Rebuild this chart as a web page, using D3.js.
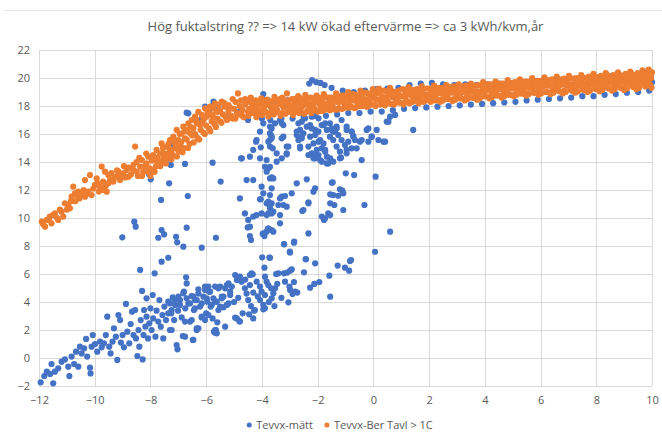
<!DOCTYPE html>
<html>
<head>
<meta charset="utf-8">
<script src="https://cdn.jsdelivr.net/npm/d3@7"></script>
<style>
  body { margin: 0; background: #fff; }
  text { font-family: "Open Sans", sans-serif; fill: #595959; }
</style>
</head>
<body>
<svg id="chart" width="662" height="436"></svg>
<script>
const title = "Hög fuktalstring ?? => 14 kW ökad eftervärme => ca 3 kWh/kvm,år";
const seriesNames = ["Tevvx-mätt", "Tevvx-Ber Tavl > 1C"];
const xTicks = [-12, -10, -8, -6, -4, -2, 0, 2, 4, 6, 8, 10];
const yTicks = [-2, 0, 2, 4, 6, 8, 10, 12, 14, 16, 18, 20, 22];

// Tevvx-mätt, lower diagonal cloud
const blueLow = [
  [-11.94,-1.74],[-11.81,-1.29],[-11.72,-0.98],[-11.6,-1.14],[-11.55,-0.43],[-11.49,-1.81],[-11.43,-0.98],[-11.31,-0.74],
  [-11.19,-0.26],[-11.07,-0.1],[-10.95,-0.62],[-10.91,-1.29],[-10.83,0.1],[-10.74,-0.43],[-10.67,0.45],[-10.59,-0.62],
  [-10.53,0.81],[-10.47,0.33],[-10.38,0.69],[-10.31,1.36],[-10.27,0.1],[-10.17,-0.69],[-10.15,-1.1],[-10.11,0.81],
  [-10.07,1.64],[-9.99,1.0],[-9.91,0.45],[-9.81,1.17],[-9.75,0.76],[-9.67,1.05],[-9.6,1.64],[-9.55,2.95],[-9.48,0.81],
  [-9.43,0.33],[-9.36,1.17],[-9.31,2.12],[-9.24,1.52],[-9.19,-0.14],[-9.15,3.07],[-9.09,2.71],[-9.06,1.1],[-9.0,1.64],
  [-8.95,0.76],[-8.88,3.86],[-8.83,1.88],[-8.76,1.05],[-8.71,2.43],[-8.66,3.31],[-8.61,1.64],[-8.55,3.43],[-8.52,1.4],
  [-8.47,0.14],[-8.43,2.0],[-8.4,0.81],[-8.35,2.71],[-8.3,4.79],[-8.28,-0.1],[-8.25,1.64],[-8.23,3.43],[-8.18,2.24],
  [-8.14,2.95],[-8.14,4.26],[-8.09,1.4],[-8.04,2.48],[-8.0,3.55],[-7.96,2.0],[-7.92,4.5],[-7.9,2.83],[-7.82,1.52],
  [-7.78,3.38],[-7.72,2.6],[-7.68,4.14],[-7.63,2.24],[-7.57,3.07],[-7.54,1.4],[-7.5,3.67],[-7.44,2.71],[-7.36,4.02],
  [-7.3,2.0],[-7.25,3.19],[-7.2,4.33],[-7.15,2.71],[-7.11,3.79],[-7.06,0.93],[-7.03,0.62],[-7.01,3.38],[-6.94,4.14],
  [-6.88,2.9],[-6.84,1.57],[-6.8,4.74],[-6.75,3.55],[-6.72,5.76],[-6.7,5.33],[-6.64,3.9],[-6.58,2.6],[-6.52,4.43],
  [-6.48,1.29],[-6.44,3.43],[-6.4,4.14],[-6.34,2.12],[-6.28,4.9],[-6.22,3.67],[-6.16,2.9],[-6.1,4.38],[-6.04,5.1],
  [-6.0,3.19],[-5.96,4.02],[-5.89,4.74],[-5.84,3.67],[-5.77,2.83],[-5.72,1.88],[-5.68,5.1],[-5.62,4.02],[-5.56,3.43],
  [-5.5,5.1],[-5.44,4.38],[-5.38,3.62],[-5.32,2.24],[-5.26,5.21],[-5.2,3.9],[-5.14,4.74],
  [-3.89,5.81],[-3.83,5.45],[-3.77,5.21],[-3.67,4.98],[-3.59,4.62],[-3.65,4.26],[-3.89,4.5],[-4.01,4.74],[-4.07,4.14],
  [-3.95,3.79],[-3.89,3.55],[-4.07,5.1],[-4.19,5.45],[-4.37,6.05],[-4.31,4.67],[-4.43,5.21],[-4.49,4.14],[-4.61,4.98],
  [-4.73,5.45],[-4.79,5.81],[-4.9,5.57],[-4.96,5.93],[-5.08,5.1],[-5.14,4.5],[-5.2,5.33],[-5.32,4.98],[-5.38,4.38],
  [-5.26,3.79],[-5.44,4.26],[-5.5,3.67],[-5.56,4.98],[-5.68,4.02],[-5.74,4.26],[-5.8,3.79],[-5.86,4.74],[-5.92,5.1],
  [-5.98,4.26],[-6.04,4.86],[-6.16,3.9],[-6.28,4.6],[-6.34,4.14],[-6.4,3.55],[-6.46,4.38],[-6.58,3.9],[-6.7,4.26],
  [-6.82,4.62],[-6.94,3.79],[-7.0,4.38],[-7.12,4.14],[-7.24,3.43],[-7.3,3.9],[-7.36,3.19],
  [-4.31,2.83],[-4.9,2.83],[-4.79,2.6],[-5.68,2.0],[-5.62,1.76],[-6.28,2.12],[-6.34,2.0],[-6.46,1.29],[-6.76,1.52],
  [-7.24,2.0],[-6.04,2.71],[-5.92,3.07],[-6.16,2.95],[-6.52,2.71],[-6.76,2.6],[-4.39,3.71],[-4.25,3.43],[-4.69,3.19],
  [-2.85,5.43],[-3.01,5.1],[-2.99,4.86],[-2.81,4.74],[-2.73,4.67],[-2.9,4.57],[-3.05,3.98],[-3.55,3.71],[-3.95,3.48],
  [-4.28,3.38],[-4.46,3.12],[-4.81,2.64],[-4.96,2.88],[-5.65,2.0],[-5.68,1.81],[-5.6,2.55],
  [-2.49,6.12],[-2.99,6.24],[-2.93,6.33],[-3.09,6.1],[-3.21,6.05],[-3.49,6.0],[-4.33,5.98],[-4.43,5.93],
  [-1.58,5.88],[-1.94,5.43],[-2.12,5.29],[-2.27,5.02],[-1.55,4.38],[-3.41,6.05],[-3.17,5.45],[-3.53,4.98],
  [-4.85,4.3],[-4.55,4.6],[-4.15,4.4],[-3.75,4.0],[-3.45,5.3],[-3.3,4.3],[-4.6,5.6],[-5.0,4.0]
];

// Tevvx-mätt, scattered points between the two bands
const blueMid = [
  [-7.42,14.19],[-7.27,13.79],[-6.76,13.86],[-5.77,13.95],[-5.48,12.6],[-8.05,13.12],[-7.99,12.76],[-7.33,12.48],
  [-6.66,11.57],[-7.62,11.29],[-7.18,15.26],[-8.58,9.74],[-8.53,9.38],[-9.01,8.62],[-7.6,9.14],[-7.72,8.59],[-7.51,8.83],
  [-7.08,8.66],[-7.04,8.26],[-6.82,7.95],[-6.7,9.31],[-6.16,7.88],[-5.65,8.59],[-7.6,6.88],[-7.36,7.16],[-8.37,6.29],
  [-7.85,6.05],[-4.79,11.4],[-4.55,12.71],[-4.31,12.71],[-4.72,14.26],[-4.43,14.38],[-4.31,14.86],[-4.21,15.45],
  [-4.04,15.05],[-4.07,14.26],[-3.83,14.14],[-3.89,13.66],[-3.77,13.55],[-3.71,15.57],[-3.68,15.93],[-3.61,14.98],
  [-4.01,12.24],[-3.95,11.76],[-4.07,11.34],[-3.65,12.9],[-3.29,11.52],[-3.23,10.93],[-3.83,11.05],[-3.71,10.81],
  [-3.65,10.33],[-3.83,10.21],[-4.01,10.33],[-4.19,10.21],[-4.31,10.1],[-4.61,10.33],[-4.49,9.86],[-4.43,9.38],
  [-3.35,9.62],[-3.35,10.21],[-3.95,8.9],[-3.83,9.02],[-3.59,9.02],[-3.11,10.81],[-3.17,11.57],[-2.93,11.76],
  [-2.51,10.57],[-2.33,11.05],[-2.75,12.48],[-2.39,12.76],[-2.09,12.12],[-2.15,11.88],[-1.49,12.52],[-1.44,11.64],
  [-1.55,11.05],[-1.62,10.33],[-1.73,9.98],[-1.85,10.1],[-1.2,12.05],[-1.08,11.76],[-1.08,10.57],[-0.99,13.19],
  [-0.69,13.07],[-0.32,10.93],[0.08,12.95],[0.6,9.02],[-2.33,8.9],[1.43,16.29],[0.48,16.88],[0.6,17.24],[0.18,15.57],
  [0.36,15.45],[-0.24,16.29],[-0.06,15.81],[-0.18,15.45],[-0.42,14.14],[-1.2,14.26],[-0.96,14.86],[-0.78,14.98],
  [-0.66,15.57],[-0.48,15.45],[-0.78,16.17],[-0.72,15.86],
  [-2.75,15.93],[-2.63,16.29],[-2.51,16.05],[-2.57,15.69],[-2.39,16.52],[-2.27,15.81],[-2.15,15.33],[-2.03,14.86],
  [-1.97,14.5],[-1.91,14.14],[-2.09,14.26],[-2.21,14.62],[-2.33,15.1],[-1.91,15.57],[-1.79,15.33],[-1.73,14.86],
  [-1.67,14.38],[-1.62,13.9],[-1.49,16.29],[-1.44,16.17],[-1.32,16.4],[-1.26,15.93],[-1.44,15.57],[-1.32,15.1],
  [-1.56,15.81],[-2.27,16.64],[-2.09,16.29],[-1.97,16.17],[-1.85,16.64],[-1.73,16.76],[-1.56,16.76],[-2.63,15.1],
  [-3.71,16.52],[-3.53,16.76],[-3.35,17.0],[-3.23,16.64],[-3.65,15.81],[-3.23,15.81],[-3.05,15.1],[-3.47,14.62],
  [-3.11,14.62],[-4.07,16.17],[-4.19,15.57],[-3.95,16.76],[-0.96,16.29],[-1.14,15.57],
  [0.06,7.59],[-0.8,7.0],[-2.09,6.76],[-2.43,7.07],[-2.84,8.31],[-3.2,8.12],[-3.0,7.6],[-3.71,7.16],[-1.55,10.21],
  [-2.55,10.5],[-2.33,11.12],[-3.35,11.4],[-3.41,10.93],[-3.65,11.05],[-3.71,10.69],[-3.77,10.33],[-3.59,10.45],
  [-3.65,9.14],[-3.77,9.26],[-3.71,12.83],[-3.59,12.83],[-1.55,11.69],[-1.26,11.59],[-1.11,11.95],[-1.4,10.93],
  [-1.46,12.55],[-1.16,14.31],[-3.47,14.02],[-3.29,14.26],[-3.11,14.55],[-3.71,13.66],[-3.83,13.31],
  [-3.77,15.45],[-3.71,15.1],[-3.65,15.69],[-3.29,15.69],[-3.11,15.1],[-2.63,14.98],[-2.33,14.5],[-2.15,14.26],
  [-1.85,14.02],[-1.67,13.9],[-3.65,16.4],[-3.71,16.05],[-3.29,16.76],[-2.69,16.76],[-2.57,16.88],[-2.45,17.12],
  [-2.21,17.24],[-1.97,17.12],[-1.79,16.64],[-1.67,16.29],[-1.49,16.4],[-1.38,16.17],[-1.32,16.52],[-1.14,17.0],
  [-0.96,16.52],[-0.78,16.17],[-0.72,15.81],[-0.9,15.45],[-1.02,15.21],[-0.6,14.98],[-0.96,14.62],[-0.42,15.57],
  [-0.18,16.4],[-0.06,15.81],[0.42,15.45],[0.54,16.88],[0.12,16.29],[0.78,17.36],[-2.21,16.4],[-2.09,15.93],
  [-1.97,15.45],[-1.85,14.98],[-2.09,14.5],[-1.73,14.74],[-1.55,14.26],[-1.44,14.02],[-1.2,14.74],[-2.75,16.17],
  [-2.57,15.81],[-2.69,15.57],[-3.65,12.12],[-3.71,11.64],[-3.77,11.17],
  [-4.51,9.33],[-4.43,8.71],[-4.39,8.43],[-3.97,8.86],[-3.91,8.71],[-3.79,9.19],[-3.21,8.14],[-2.85,8.24],[-2.99,7.52],
  [-1.77,9.86],[-3.99,7.19],[-3.73,7.17],[-3.91,6.45],[-2.42,7.05],[-1.28,6.6],[-1.02,6.45],[-0.84,6.93],[-0.87,6.24],
  [-4.75,14.26],[-4.04,11.34]
];

// Tevvx-mätt, points along the upper band (mostly under the orange series)
const blueBand = [
  [-6.7,17.52],[-6.64,17.48],[-5.74,18.31],[-6.04,17.95],[-5.89,17.71],[-5.56,17.95],[-6.22,17.0],[-3.95,18.85],
  [-5.2,17.3],[-4.8,17.6],[-4.5,17.0],[-4.2,18.3],
  [-4.0,17.1],[-3.9,18.4],[-3.7,17.0],[-3.5,18.3],[-3.3,17.1],[-3.1,18.4],[-2.9,17.1],[-2.7,18.5],[-2.5,17.2],
  [-2.3,19.6],[-2.2,19.85],[-2.05,19.7],[-1.9,19.65],[-1.75,19.5],[-2.1,17.3],[-1.7,17.3],[-1.5,19.3],[-1.3,17.4],
  [-1.1,19.1],[-0.9,17.5],[-0.7,19.0],[-0.5,17.5],[-0.3,19.1],[-0.1,17.6],[0.1,19.2],[0.3,17.6],[0.5,19.25],[0.7,17.7],
  [0.9,19.3],[1.1,17.8],[1.3,19.5],[1.5,17.85],[1.7,19.6],[1.9,17.9],[2.1,19.65],[2.3,17.95],[2.5,19.55],[2.7,18.0],
  [2.9,19.5],[3.1,18.05],[3.3,19.55],[3.5,18.1],[3.7,19.5],[3.9,18.15],[4.1,19.55],[4.3,18.2],[4.5,19.6],[4.7,18.25],
  [4.9,19.65],[5.1,18.3],[5.3,19.7],[5.5,18.4],[5.7,19.75],[5.9,18.45],[6.1,19.8],[6.3,18.5],[6.5,19.85],[6.7,18.55],
  [6.9,19.9],[7.1,18.6],[7.3,19.95],[7.5,18.7],[7.7,20.0],[7.9,18.7],[8.1,20.05],[8.3,18.8],[8.5,20.1],[8.7,18.85],
  [8.9,20.1],[9.1,18.95],[9.3,20.15],[9.5,19.0],[9.7,20.2],[9.9,19.1],[10.0,19.7]
];

// Tevvx-Ber Tavl > 1C, rising part
const orangeRise = [
  [-11.9,9.74],[-11.78,9.38],[-11.72,9.86],[-11.61,10.1],[-11.55,9.62],[-11.43,10.33],[-11.31,9.86],[-11.19,10.45],
  [-11.13,10.1],[-11.07,11.05],[-10.95,10.93],[-10.89,10.69],[-10.83,11.52],[-10.71,11.76],[-10.77,12.24],[-10.65,11.64],
  [-10.59,11.88],[-10.47,11.64],[-10.35,11.52],[-10.23,11.88],[-10.11,11.64],[-10.35,12.71],[-10.17,13.07],[-9.93,12.83],
  [-9.99,12.36],[-9.81,12.24],[-9.69,12.0],[-9.57,11.88],[-9.75,13.67],[-9.63,13.31],[-9.51,13.07],[-9.45,12.71],
  [-9.33,12.6],[-9.21,12.95],[-9.15,13.31],[-9.09,12.71],[-8.97,13.19],[-8.85,13.43],[-8.79,12.95],[-8.67,13.55],
  [-8.55,15.1],[-8.61,13.79],[-8.49,13.31],[-8.37,13.67],[-8.31,14.14],[-8.26,13.31],[-8.14,13.9],[-8.08,14.38],
  [-8.02,13.55],[-7.9,14.5],[-7.84,14.14],[-7.78,14.86],[-7.66,14.62],[-7.6,15.33],[-7.54,14.26],[-7.42,15.1],
  [-7.36,14.62],[-7.3,15.57],[-7.24,14.86],[-7.18,15.81],[-7.12,15.33],[-7.06,16.29],[-7.0,15.57],[-6.94,15.1],
  [-6.88,16.05],[-6.82,16.52],[-6.76,15.69],[-6.7,16.29],[-6.64,16.76],[-6.58,16.05],[-6.52,17.0],[-6.46,16.4],
  [-6.4,17.24],[-6.34,16.76],[-6.28,17.59],[-6.22,16.64],[-6.16,17.36],[-6.1,17.0],[-6.04,17.83],[-5.98,17.24],
  [-5.92,17.59],[-5.86,17.95],[-5.8,17.36],[-5.74,17.83],[-5.68,18.19],[-5.62,17.59],[-5.56,18.07],[-5.5,17.71],
  [-5.44,18.31],[-5.32,17.95],[-5.2,18.07],
  [-8.0,13.0],[-7.9,13.4],[-7.8,13.7],[-7.7,13.9],[-7.6,14.0],[-7.5,14.6],[-7.4,14.3],[-7.3,14.9],[-7.2,14.5],
  [-7.1,15.0],[-7.0,14.8],[-6.9,15.4],[-6.8,15.0],[-6.7,15.6],[-6.6,15.3],[-6.5,15.9],[-6.4,16.0],[-6.3,15.7],
  [-6.2,16.3],[-6.1,16.1],[-6.0,16.6],[-5.9,16.4],[-5.8,16.9],[-5.7,16.7],[-5.6,17.1],[-5.5,16.9],[-5.4,17.4],
  [-5.3,17.2],[-5.2,17.6],[-5.1,17.3],[-5.0,17.8],[-4.9,17.5],[-4.8,18.0],[-4.7,17.7],[-4.6,18.1],[-4.5,17.6],
  [-4.86,18.9],[-5.05,18.5],[-4.95,17.1],[-4.7,17.3],[-4.6,18.5],
  [-11.85,9.55],[-11.65,9.9],[-11.5,10.2],[-11.35,10.0],[-11.25,10.6],[-11.0,10.6],[-10.85,11.2],[-10.7,11.2],
  [-10.55,11.4],[-10.4,12.0],[-10.3,11.7],[-10.05,12.1],[-9.9,12.5],[-9.85,11.9],[-9.7,12.6],[-9.6,12.3],[-9.5,12.5],
  [-9.4,13.2],[-9.3,12.9],[-9.2,13.4],[-9.05,13.0],[-8.95,13.7],[-8.9,12.9],[-8.8,13.6],[-8.7,13.1],[-8.6,13.4],
  [-8.5,14.0],[-8.45,13.0],[-8.4,14.3],[-8.3,13.0],[-8.2,13.7],[-8.15,14.6],[-8.1,13.3],[-7.95,14.1],[-7.85,13.3],
  [-7.75,14.3],[-7.65,13.7],[-7.55,15.0],[-7.45,13.9],[-7.35,15.3],[-7.25,14.2],[-7.15,15.6],[-7.05,14.4],[-6.95,16.0],
  [-6.85,14.7],[-6.75,16.2],[-6.65,15.0],[-6.55,16.5],[-6.45,15.4],[-6.35,17.0],[-6.25,15.6],[-6.15,16.8],[-6.05,16.0],
  [-5.95,17.5],[-5.85,16.2],[-5.75,17.2],[-5.65,16.5],[-5.55,17.6],[-5.45,16.8],[-5.35,18.2],[-5.25,17.0],[-5.15,17.9],
  [-5.05,17.1],[-4.95,18.3],[-4.85,17.4],[-4.75,18.4],[-4.65,17.2],[-4.55,18.3]
];

// Tevvx-Ber Tavl > 1C, flat upper band
const orangeBand = [
  [-4.48,17.3],[-4.45,17.8],[-4.42,18.3],[-4.4,18.6],[-4.3,17.5],[-4.27,18.0],[-4.22,18.4],[-4.2,17.2],
  [-4.1,17.7],[-4.06,18.2],[-4.02,18.55],[-4.0,17.35],[-3.88,17.6],[-3.84,18.1],[-3.8,18.45],[-3.77,17.25],
  [-3.66,17.85],[-3.62,18.3],[-3.58,17.4],[-3.55,18.65],[-3.45,17.7],[-3.4,18.15],[-3.36,18.5],[-3.33,17.3],
  [-3.22,17.9],[-3.18,18.35],[-3.15,17.45],[-3.1,18.9],[-3.0,17.6],[-2.96,18.05],[-2.92,18.5],[-2.88,17.35],
  [-2.78,17.8],[-2.74,18.25],[-2.7,18.7],[-2.66,17.5],[-2.56,17.95],[-2.52,18.4],[-2.48,17.45],[-2.44,18.8],
  [-2.34,17.7],[-2.3,18.15],[-2.26,18.6],[-2.22,17.5],[-2.12,17.85],[-2.08,18.3],[-2.04,18.75],[-2.0,17.6],
  [-1.9,18.0],[-1.86,18.45],[-1.82,17.65],[-1.78,18.85],[-1.68,17.8],[-1.64,18.2],[-1.6,18.6],[-1.56,17.7],
  [-1.46,18.05],[-1.42,18.5],[-1.38,17.75],[-1.34,18.9],[-1.24,17.85],[-1.2,18.3],[-1.16,18.75],[-1.12,17.8],
  [-1.02,18.15],[-0.98,18.6],[-0.94,17.9],[-0.9,19.0],[-0.8,17.95],[-0.76,18.4],[-0.72,18.85],[-0.68,17.85],
  [-0.58,18.25],[-0.54,18.7],[-0.5,18.0],[-0.46,19.1],[-0.36,18.05],[-0.32,18.5],[-0.28,18.95],[-0.24,17.95],
  [-0.14,18.35],[-0.1,18.8],[-0.06,18.1],[-0.02,19.2],[0.08,18.0],[0.12,18.45],[0.16,18.9],[0.2,19.25],
  [0.3,18.2],[0.34,18.65],[0.38,19.1],[0.42,18.05],[0.52,18.35],[0.56,18.8],[0.6,19.3],[0.64,18.15],
  [0.74,18.1],[0.78,18.55],[0.82,19.0],[0.86,18.4],[0.96,18.25],[1.0,18.7],[1.04,19.2],[1.08,18.1],
  [1.18,18.4],[1.22,18.85],[1.26,19.35],[1.3,18.2],[1.4,18.3],[1.44,18.75],[1.48,19.15],[1.52,18.5],
  [1.62,18.2],[1.66,18.6],[1.7,19.05],[1.74,19.4],[1.84,18.35],[1.88,18.8],[1.92,19.25],[1.96,18.55],
  [2.06,18.3],[2.1,18.7],[2.14,19.15],[2.18,19.45],[2.28,18.45],[2.32,18.9],[2.36,19.3],[2.4,18.3],
  [2.5,18.4],[2.54,18.8],[2.58,19.2],[2.62,19.5],[2.72,18.5],[2.76,18.95],[2.8,19.35],[2.84,18.35],
  [2.94,18.45],[2.98,18.85],[3.02,19.25],[3.06,19.55],[3.16,18.55],[3.2,19.0],[3.24,19.4],[3.28,18.4],
  [3.38,18.5],[3.42,18.9],[3.46,19.3],[3.5,19.6],[3.6,18.6],[3.64,19.05],[3.68,19.45],[3.72,18.45],
  [3.82,18.55],[3.86,19.0],[3.9,19.4],[3.94,19.7],[4.04,18.7],[4.08,19.15],[4.12,19.55],[4.16,18.55],
  [4.26,18.65],[4.3,19.05],[4.34,19.45],[4.38,19.75],[4.48,18.75],[4.52,19.2],[4.56,19.6],[4.6,18.6],
  [4.7,18.7],[4.74,19.1],[4.78,19.5],[4.82,19.85],[4.92,18.8],[4.96,19.25],[5.0,19.65],[5.04,18.7],
  [5.14,18.8],[5.18,19.2],[5.22,19.6],[5.26,19.9],[5.36,18.9],[5.4,19.35],[5.44,19.75],[5.48,18.75],
  [5.58,18.85],[5.62,19.3],[5.66,19.7],[5.7,20.0],[5.8,18.95],[5.84,19.4],[5.88,19.8],[5.92,18.8],
  [6.02,18.9],[6.06,19.35],[6.1,19.75],[6.14,20.05],[6.24,19.0],[6.28,19.45],[6.32,19.85],[6.36,18.85],
  [6.46,18.95],[6.5,19.4],[6.54,19.8],[6.58,20.1],[6.68,19.05],[6.72,19.5],[6.76,19.9],[6.8,18.9],
  [6.9,19.0],[6.94,19.45],[6.98,19.85],[7.02,20.15],[7.12,19.1],[7.16,19.55],[7.2,19.95],[7.24,18.95],
  [7.34,19.05],[7.38,19.5],[7.42,19.9],[7.46,20.2],[7.56,19.15],[7.6,19.6],[7.64,20.0],[7.68,19.0],
  [7.78,19.1],[7.82,19.55],[7.86,19.95],[7.9,20.3],[8.0,19.2],[8.04,19.65],[8.08,20.05],[8.12,19.05],
  [8.22,19.15],[8.26,19.6],[8.3,20.0],[8.34,20.35],[8.44,19.25],[8.48,19.7],[8.52,20.1],[8.56,19.1],
  [8.66,19.2],[8.7,19.65],[8.74,20.05],[8.78,20.4],[8.88,19.3],[8.92,19.75],[8.96,20.15],[9.0,19.15],
  [9.1,19.25],[9.14,19.7],[9.18,20.1],[9.22,20.45],[9.32,19.35],[9.36,19.8],[9.4,20.2],[9.44,19.2],
  [9.54,19.3],[9.58,19.75],[9.62,20.15],[9.66,20.55],[9.76,19.4],[9.8,19.85],[9.84,20.25],[9.88,20.6],
  [9.94,19.5],[9.97,20.0],[10.0,20.4],[9.98,19.3]
];

// Tevvx-Ber Tavl > 1C, more points inside the flat band
const orangeBandFill = [
  [-4.35,17.5],[-4.35,17.95],[-4.35,18.4],[-4.15,17.45],[-4.15,18.0],[-4.15,18.35],[-3.93,17.55],[-3.93,17.9],[-3.93,18.4],
  [-3.71,17.5],[-3.71,18.0],[-3.71,18.35],[-3.5,17.55],[-3.5,17.95],[-3.5,18.45],[-3.27,17.5],[-3.27,18.05],[-3.27,18.6],
  [-3.05,17.6],[-3.05,18.0],[-3.05,18.4],[-2.83,17.55],[-2.83,18.1],[-2.83,18.5],[-2.61,17.65],[-2.61,18.05],[-2.61,18.55],
  [-2.39,17.6],[-2.39,18.1],[-2.39,18.45],[-2.17,17.7],[-2.17,18.15],[-2.17,18.55],[-1.95,17.65],[-1.95,18.2],[-1.95,18.6],
  [-1.73,17.75],[-1.73,18.15],[-1.73,18.65],[-1.51,17.8],[-1.51,18.25],[-1.51,18.6],[-1.29,17.75],[-1.29,18.3],[-1.29,18.7],
  [-1.07,17.85],[-1.07,18.3],[-1.07,18.75],[-0.85,17.9],[-0.85,18.35],[-0.85,18.7],[-0.63,17.9],[-0.63,18.4],[-0.63,18.8],
  [-0.41,18.0],[-0.41,18.4],[-0.41,18.85],[-0.19,18.0],[-0.19,18.5],[-0.19,18.9],[0.03,18.1],[0.03,18.55],[0.03,18.95],
  [0.25,18.1],[0.25,18.5],[0.25,19.0],[0.47,18.2],[0.47,18.6],[0.47,19.05],[0.69,18.15],[0.69,18.65],[0.69,19.05],
  [0.91,18.25],[0.91,18.7],[0.91,19.1],[1.13,18.25],[1.13,18.65],[1.13,19.15],[1.35,18.3],[1.35,18.75],[1.35,19.15],
  [1.57,18.35],[1.57,18.8],[1.57,19.2],[1.79,18.3],[1.79,18.75],[1.79,19.2],[2.01,18.4],[2.01,18.85],[2.01,19.25],
  [2.23,18.4],[2.23,18.8],[2.23,19.3],[2.45,18.45],[2.45,18.9],[2.45,19.3],[2.67,18.5],[2.67,18.9],[2.67,19.35],
  [2.89,18.5],[2.89,18.95],[2.89,19.4],[3.11,18.55],[3.11,18.95],[3.11,19.4],[3.33,18.6],[3.33,19.0],[3.33,19.45],
  [3.55,18.6],[3.55,19.05],[3.55,19.45],[3.77,18.65],[3.77,19.05],[3.77,19.5],[3.99,18.7],[3.99,19.1],[3.99,19.5],
  [4.21,18.7],[4.21,19.15],[4.21,19.55],[4.43,18.75],[4.43,19.15],[4.43,19.6],[4.65,18.8],[4.65,19.2],[4.65,19.6],
  [4.87,18.8],[4.87,19.25],[4.87,19.65],[5.09,18.85],[5.09,19.25],[5.09,19.7],[5.31,18.9],[5.31,19.3],[5.31,19.7],
  [5.53,18.9],[5.53,19.35],[5.53,19.75],[5.75,18.95],[5.75,19.35],[5.75,19.8],[5.97,19.0],[5.97,19.4],[5.97,19.8],
  [6.19,19.0],[6.19,19.45],[6.19,19.85],[6.41,19.05],[6.41,19.45],[6.41,19.9],[6.63,19.1],[6.63,19.5],[6.63,19.9],
  [6.85,19.1],[6.85,19.55],[6.85,19.95],[7.07,19.15],[7.07,19.55],[7.07,20.0],[7.29,19.2],[7.29,19.6],[7.29,20.0],
  [7.51,19.2],[7.51,19.65],[7.51,20.05],[7.73,19.25],[7.73,19.65],[7.73,20.1],[7.95,19.3],[7.95,19.7],[7.95,20.1],
  [8.17,19.3],[8.17,19.75],[8.17,20.15],[8.39,19.35],[8.39,19.75],[8.39,20.2],[8.61,19.4],[8.61,19.8],[8.61,20.2],
  [8.83,19.4],[8.83,19.85],[8.83,20.25],[9.05,19.45],[9.05,19.85],[9.05,20.3],[9.27,19.5],[9.27,19.9],[9.27,20.3],
  [9.49,19.5],[9.49,19.95],[9.49,20.35],[9.71,19.55],[9.71,19.95],[9.71,20.4],[9.9,19.6],[9.9,20.0],[9.9,20.45],
  [-4.25,17.7],[-3.98,18.25],[-3.6,17.65],[-3.2,18.2],[-2.9,17.8],[-2.6,18.3],[-2.2,17.95],[-1.85,18.35],[-1.6,17.95],
  [-1.2,18.55],[-0.95,18.1],[-0.6,18.6],[-0.3,18.2],[0.0,18.75],[0.35,18.35],[0.6,18.95],[0.85,18.5],[1.15,19.0],
  [1.45,18.55],[1.7,18.95],[2.0,18.6],[2.3,19.1],[2.6,18.65],[2.85,19.2],[3.1,18.75],[3.4,19.25],[3.7,18.8],[3.95,19.3],
  [4.25,18.9],[4.55,19.4],[4.8,18.95],[5.1,19.45],[5.4,19.05],[5.65,19.55],[5.95,19.15],[6.25,19.65],[6.5,19.2],
  [6.8,19.7],[7.1,19.3],[7.35,19.8],[7.65,19.4],[7.9,19.85],[8.2,19.45],[8.5,19.9],[8.75,19.5],[9.0,20.0],[9.3,19.6],
  [9.55,20.05],[9.8,19.65],[9.95,20.2]
];

const colors = ["#4472C4", "#ED7D31"];
const series = [
  {name: seriesNames[0], color: colors[0], points: blueLow.concat(blueMid, blueBand)},
  {name: seriesNames[1], color: colors[1], points: orangeRise.concat(orangeBand, orangeBandFill)}
];

const svg = d3.select("#chart");
const margin = {left: 39, right: 10, top: 50, bottom: 50};
const width = 662, height = 436;

const x = d3.scaleLinear().domain([-12, 10]).range([margin.left, 652]);
const y = d3.scaleLinear().domain([-2, 22]).range([386, margin.top]);

// faint frame line at top
svg.append("line")
  .attr("x1", 4).attr("x2", width).attr("y1", 10.5).attr("y2", 10.5)
  .attr("stroke", "#e6e6e6");

svg.append("text")
  .attr("x", (x(-12) + x(10)) / 2)
  .attr("y", 31)
  .attr("text-anchor", "middle")
  .style("font-size", "13px")
  .text(title);

// grid
const grid = svg.append("g");
grid.selectAll(".gx").data(xTicks).join("line")
  .attr("x1", d => Math.round(x(d)) + 0.5).attr("x2", d => Math.round(x(d)) + 0.5)
  .attr("y1", y(22)).attr("y2", y(-2))
  .attr("stroke", "#d9d9d9");
grid.selectAll(".gy").data(yTicks).join("line")
  .attr("x1", x(-12)).attr("x2", x(10))
  .attr("y1", d => Math.round(y(d)) + 0.5).attr("y2", d => Math.round(y(d)) + 0.5)
  .attr("stroke", "#d9d9d9");

// axes (labels only)
const xAxis = svg.append("g")
  .attr("transform", `translate(0,${y(-2)})`)
  .call(d3.axisBottom(x).tickValues(xTicks).tickSize(0).tickPadding(10));
const yAxis = svg.append("g")
  .attr("transform", `translate(${x(-12)},0)`)
  .call(d3.axisLeft(y).tickValues(yTicks).tickSize(0).tickPadding(9));
[xAxis, yAxis].forEach(a => {
  a.select(".domain").remove();
  a.selectAll("text").style("font-size", "11px").style("fill", "#595959")
    .style("font-family", "\"Open Sans\", sans-serif");
});

// points
series.forEach(s => {
  svg.append("g").selectAll("circle").data(s.points).join("circle")
    .attr("cx", d => x(d[0]))
    .attr("cy", d => y(d[1]))
    .attr("r", 3.1)
    .attr("fill", s.color);
});

// legend
const legend = svg.append("g").attr("transform", "translate(0,425)");
let items = [];
series.forEach(s => {
  const g = legend.append("g");
  g.append("circle").attr("cx", 0).attr("cy", 0).attr("r", 2.5).attr("fill", s.color);
  const t = g.append("text").attr("x", 7).attr("y", 4).style("font-size", "11px").text(s.name);
  items.push({g: g, w: 7 + t.node().getComputedTextLength()});
});
const gap = 14;
const total = d3.sum(items, d => d.w) + gap * (items.length - 1);
let cx = 341 - total / 2;
items.forEach(it => {
  it.g.attr("transform", `translate(${cx},0)`);
  cx += it.w + gap;
});
</script>
</body>
</html>
